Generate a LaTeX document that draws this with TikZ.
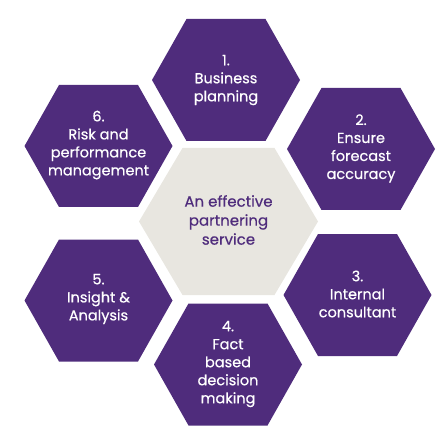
\documentclass[tikz,border=0pt]{standalone}
\usepackage{fontspec}
\setmainfont{Poppins}
\newfontfamily\medfont{Poppins}[FakeBold=0.5]
\definecolor{hexpurple}{HTML}{4F2C7C}
\definecolor{hexgrey}{HTML}{E8E6E0}
\newcommand{\hexshape}[5]{% cx cy halfwidth halftop halfheight
  \path ($(#1,#2)+(-#3,0)$) -- ($(#1,#2)+(-#4,-#5)$) -- ($(#1,#2)+(#4,-#5)$)
        -- ($(#1,#2)+(#3,0)$) -- ($(#1,#2)+(#4,#5)$) -- ($(#1,#2)+(-#4,#5)$) -- cycle}
\usetikzlibrary{calc}
\tikzset{
  hexfill/.style={fill=hexpurple},
  centrefill/.style={fill=hexgrey},
  hextext/.style={text=white, align=center, font=\medfont\fontsize{14.5}{18}\selectfont},
  centretext/.style={text=hexpurple, align=center, font=\medfont\fontsize{15}{19}\selectfont}
}
\begin{document}
\begin{tikzpicture}[x=1pt,y=-1pt]
\useasboundingbox (0,0) rectangle (448,436);
% hexagons
\hexshape{226}{80}{74}{39.5}{61} [hexfill];
\hexshape{361}{149}{74}{39.5}{61} [hexfill];
\hexshape{357.5}{295}{74}{39.5}{61} [hexfill];
\hexshape{228}{364.5}{74}{39.5}{61} [hexfill];
\hexshape{98.5}{300.5}{74}{39.5}{61} [hexfill];
\hexshape{98.5}{146}{74}{39.5}{61} [hexfill];
\hexshape{228.5}{221.5}{89.5}{46}{73.5} [centrefill];
% texts
\node[hextext] (h1) at (226,80) {1.\\Business\\planning};
\node[hextext] (h2) at (361,148.5) {2.\\Ensure\\forecast\\accuracy};
\node[hextext] (h3) at (357.5,294) {3.\\Internal\\consultant};
\node[hextext] (h4) at (228,364) {4.\\Fact\\based\\decision\\making};
\node[hextext] (h5) at (98.5,299) {5.\\Insight \&\\Analysis};
\node[hextext] (h6) at (98.5,145) {6.\\Risk and\\performance\\management};
\node[centretext] (c) at (228.5,220) {An effective\\partnering\\service};
\end{tikzpicture}
\end{document}
